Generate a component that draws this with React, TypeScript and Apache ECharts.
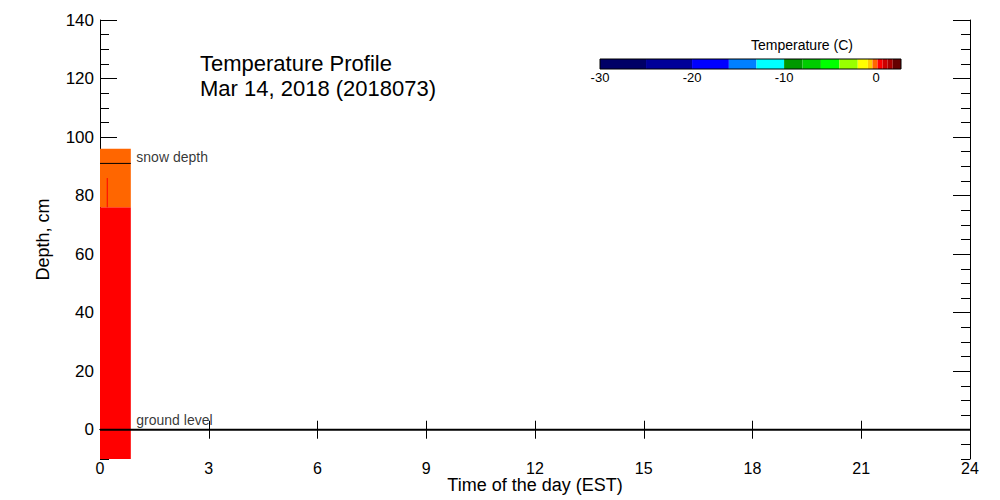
import React, { useEffect, useRef } from "react";
import * as echarts from "echarts";

// ---- data ----
const hourTicks = [0, 3, 6, 9, 12, 15, 18, 21, 24];
const depthMajorTicks = [0, 20, 40, 60, 80, 100, 120, 140];

// snow/soil layers measured in the first observation (hours 0..0.85)
const layerStartHour = [0, 0];
const layerEndHour = [0.85, 0.85];
const layerBottom = [-10, 76];
const layerTop = [76, 96];
const layerTemp = [0.4, -0.2];

const snowDepth = 91;
const snowDepthHours = [0, 0.85];
const sensorTraceHour = 0.2;
const sensorTraceDepth = [76, 86];

// colour scale
const tempBinEdges = [-30, -25, -20, -16, -13, -10, -8, -6, -4, -2, -0.9, -0.4, 0.15, 0.7, 1.25, 1.8, 2.7];
const tempBinColors = [
  "#000066", "#000099", "#0000ff", "#0080ff", "#00ffff",
  "#009900", "#00cc00", "#00ff00", "#99ff00", "#ffff00",
  "#ffcc00", "#ff6600", "#ff0000", "#cc0000", "#aa0000", "#660000",
];
const colorbarTicks = [-30, -20, -10, 0];

const FONT = "Liberation Sans";

function colorFor(t: number): string {
  for (let i = 0; i < tempBinColors.length; i++) {
    if (t >= tempBinEdges[i] && t < tempBinEdges[i + 1]) return tempBinColors[i];
  }
  return t < tempBinEdges[0] ? tempBinColors[0] : tempBinColors[tempBinColors.length - 1];
}

export default function App() {
  const ref = useRef<HTMLDivElement>(null);
  useEffect(() => {
    if (!ref.current) return;
    const chart = echarts.init(ref.current, undefined, { renderer: "svg" });

    const layers = layerBottom.map((b, i) => [layerStartHour[i], layerEndHour[i], b, layerTop[i], layerTemp[i]]);
    const bins = tempBinColors.map((c, i) => [tempBinEdges[i], tempBinEdges[i + 1], i]);

    const tickStyle = { color: "#000", width: 1 };
    const yBase = {
      type: "value",
      min: -10,
      max: 140,
      gridIndex: 0,
      splitLine: { show: false },
    };

    chart.setOption({
      animation: false,
      backgroundColor: "#fff",
      textStyle: { fontFamily: FONT, color: "#000" },
      grid: [
        { left: 100, right: 30, top: 20, bottom: 41, show: false, containLabel: false, outerBoundsMode: "none" },
        { left: 600, width: 301, top: 59, height: 10, show: true, borderColor: "#000", borderWidth: 1, z: 5, containLabel: false, outerBoundsMode: "none" },
      ],
      xAxis: [
        {
          type: "value", gridIndex: 0, min: 0, max: 24, interval: 3, position: "bottom",
          axisLine: { show: true, lineStyle: { color: "#000", width: 1 } },
          axisTick: { show: true, inside: true, length: 9, lineStyle: tickStyle, customValues: hourTicks },
          axisLabel: { show: true, color: "#000", fontSize: 16, lineHeight: 16, fontFamily: FONT, margin: 1, customValues: hourTicks },
          splitLine: { show: false },
          name: "Time of the day (EST)", nameLocation: "middle", nameGap: 17, nameMoveOverlap: false,
          nameTextStyle: { fontSize: 18, lineHeight: 18, fontFamily: FONT, color: "#000", verticalAlign: "top" },
        },
        {
          type: "value", gridIndex: 0, min: 0, max: 24, interval: 3, position: "top",
          axisLine: { show: true, lineStyle: { color: "#000", width: 1 } },
          axisTick: { show: true, inside: true, length: 9, lineStyle: tickStyle },
          axisLabel: { show: false },
          splitLine: { show: false },
        },
        {
          type: "value", gridIndex: 1, min: -30, max: 2.7, interval: 10,
          axisLine: { show: false },
          axisTick: { show: false, customValues: colorbarTicks },
          axisLabel: { show: true, color: "#000", fontSize: 13, fontFamily: FONT, margin: 2, customValues: colorbarTicks },
          splitLine: { show: false },
        },
      ],
      yAxis: [
        {
          ...yBase, position: "left",
          axisLine: { show: true, lineStyle: { color: "#000", width: 1 } },
          axisTick: { show: true, inside: true, length: 17, lineStyle: tickStyle, customValues: depthMajorTicks },
          axisLabel: { show: true, color: "#000", fontSize: 17, fontFamily: FONT, margin: 6, customValues: depthMajorTicks },
          name: "Depth, cm", nameLocation: "middle", nameGap: 48, nameRotate: 90, nameMoveOverlap: false,
          nameTextStyle: { fontSize: 18, fontFamily: FONT, color: "#000" },
        },
        {
          ...yBase, position: "left", interval: 5,
          axisLine: { show: false },
          axisTick: { show: true, inside: true, length: 9, lineStyle: tickStyle },
          axisLabel: { show: false },
        },
        {
          ...yBase, position: "right",
          axisLine: { show: true, lineStyle: { color: "#000", width: 1 } },
          axisTick: { show: true, inside: true, length: 17, lineStyle: tickStyle, customValues: depthMajorTicks },
          axisLabel: { show: false },
        },
        {
          ...yBase, position: "right", interval: 5,
          axisLine: { show: false },
          axisTick: { show: true, inside: true, length: 9, lineStyle: tickStyle },
          axisLabel: { show: false },
        },
        {
          type: "value", gridIndex: 1, min: 0, max: 1,
          axisLine: { show: false }, axisTick: { show: false }, axisLabel: { show: false }, splitLine: { show: false },
        },
      ],
      graphic: [
        {
          type: "text", left: 200, top: 51,
          style: { text: "Temperature Profile\nMar 14, 2018 (2018073)", font: `22px "${FONT}"`, fill: "#000", lineHeight: 25 },
        },
        {
          type: "text", left: 751, top: 38, bounding: "raw",
          style: { text: "Temperature (C)", font: `14px "${FONT}"`, fill: "#000", align: "center" },
        },
      ],
      series: [
        {
          type: "custom",
          xAxisIndex: 0, yAxisIndex: 0,
          z: 1,
          data: layers,
          renderItem: (params: any, api: any) => {
            const p0 = api.coord([api.value(0), api.value(3)]);
            const p1 = api.coord([api.value(1), api.value(2)]);
            return {
              type: "rect",
              shape: { x: p0[0], y: p0[1], width: p1[0] - p0[0], height: p1[1] - p0[1] },
              style: { fill: colorFor(api.value(4)) },
            };
          },
        },
        {
          type: "line", xAxisIndex: 0, yAxisIndex: 0, z: 3,
          showSymbol: false, symbol: "none",
          lineStyle: { color: "#000", width: 1 },
          data: snowDepthHours.map((h) => [h, snowDepth]),
        },
        {
          type: "line", xAxisIndex: 0, yAxisIndex: 0, z: 3,
          showSymbol: false, symbol: "none",
          lineStyle: { color: "#ff0000", width: 1 },
          data: sensorTraceDepth.map((d) => [sensorTraceHour, d]),
        },
        {
          type: "line", xAxisIndex: 0, yAxisIndex: 0, z: 4,
          showSymbol: false, symbol: "none",
          lineStyle: { color: "#000", width: 2 },
          data: [[0, 0], [24, 0]],
        },
        {
          type: "scatter", xAxisIndex: 0, yAxisIndex: 0, z: 5,
          symbolSize: 1,
          itemStyle: { color: "rgba(0,0,0,0)" },
          label: { show: true, position: "right", distance: 5, color: "#000", fontSize: 14, fontFamily: FONT, formatter: (p: any) => p.data[2] },
          data: [
            [0.85, 93.2, "snow depth"],
            [0.85, 3.3, "ground level"],
          ],
        },
        {
          type: "custom",
          xAxisIndex: 2, yAxisIndex: 4,
          data: bins,
          renderItem: (params: any, api: any) => {
            const p0 = api.coord([api.value(0), 1]);
            const p1 = api.coord([api.value(1), 0]);
            return {
              type: "rect",
              shape: { x: p0[0], y: p0[1], width: p1[0] - p0[0], height: p1[1] - p0[1] },
              style: { fill: tempBinColors[api.value(2)] },
            };
          },
        },
      ],
    });
    return () => chart.dispose();
  }, []);
  return <div ref={ref} style={{ position: "absolute", left: 0, top: 0, width: 1000, height: 500 }} />;
}
